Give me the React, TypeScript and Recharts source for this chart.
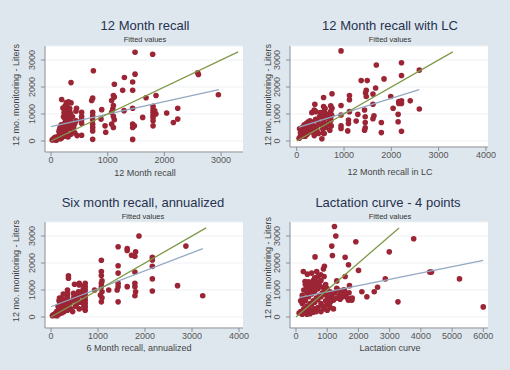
import React from 'react';
import { ScatterChart, Scatter, XAxis, YAxis, CartesianGrid } from 'recharts';

// observed points, [recall estimate, 12 mo. monitoring liters]
const recall12: number[][] = [
  [1482, 3288], [1793, 3212], [2587, 2525], [2600, 2462], [2952, 1712], [747, 2600], [353, 2162], [1294, 2350],
  [1117, 2100], [1482, 2475], [1440, 2187], [1440, 1875], [1264, 1875], [1100, 1687], [1117, 1625], [1070, 1500],
  [735, 1587], [717, 1500], [188, 1537], [288, 1412], [353, 1412], [1676, 1600], [1852, 1687], [1800, 1287],
  [1800, 1162], [1800, 1062], [1800, 962], [1800, 875], [1800, 750], [1800, 562], [2040, 1037], [2235, 1212],
  [2235, 812], [2158, 687], [1617, 875], [1440, 1212], [1440, 625], [1470, 562], [1440, 500], [1440, 60],
  [1288, 1125], [1100, 1312], [1090, 1187], [1070, 1062], [1100, 912], [1117, 787], [1070, 625], [1100, 500],
  [894, 1162], [882, 812], [953, 562], [965, 325], [735, 1062], [735, 937], [735, 787], [735, 625],
  [735, 500], [735, 375], [735, 62], [540, 1062], [540, 912], [540, 787], [540, 662], [540, 212],
  [450, 1212], [441, 750], [264, 1212], [306, 1125], [335, 1062], [353, 462], [1850, 1000], [1830, 1120],
  [20, 40], [40, 80], [60, 60], [80, 120], [100, 150], [120, 100], [140, 200], [160, 250],
  [180, 180], [200, 300], [220, 350], [240, 280], [250, 420], [260, 500], [270, 380], [280, 600],
  [290, 450], [300, 700], [310, 550], [320, 650], [330, 800], [200, 450], [210, 520], [230, 620],
  [250, 700], [270, 780], [180, 600], [160, 500], [150, 420], [140, 350], [220, 900], [240, 860],
  [260, 1000], [280, 1100], [300, 950], [320, 880], [340, 750], [360, 600], [380, 400], [350, 250],
  [300, 150], [260, 180], [230, 240], [190, 120], [170, 80], [110, 60], [90, 30], [70, 140],
  [400, 520], [420, 300], [330, 1200], [290, 1250], [250, 1300], [210, 1220], [350, 1000], [380, 900],
  [420, 650], [440, 1100], [460, 200], [230, 1050], [270, 1420], [310, 1450],
];

const recallLC: number[][] = [
  [937, 3337], [1683, 2812], [2215, 2900], [2215, 2425], [2592, 2625], [1846, 2300], [1363, 2237], [1491, 2237],
  [1668, 1962], [1470, 1875], [1470, 1650], [1455, 1775], [1612, 1737], [1988, 1650], [1115, 1687], [1115, 1525],
  [746, 1750], [568, 1612], [937, 1312], [746, 1212], [383, 1362], [369, 1150], [405, 1087], [568, 1275],
  [582, 1112], [582, 962], [689, 962], [724, 775], [689, 650], [937, 962], [937, 562], [937, 462],
  [1115, 1087], [1094, 775], [1094, 650], [1079, 375], [1292, 987], [1434, 1150], [1448, 900], [1448, 687],
  [1257, 737], [1612, 1362], [1633, 937], [1612, 825], [1789, 687], [1789, 312], [1448, 487], [1434, 400],
  [2038, 1212], [2158, 1462], [2158, 1387], [2215, 1487], [2215, 1387], [2400, 1487], [2144, 987], [2144, 712],
  [2215, 362], [2592, 1187], [532, 80], [582, 275],
  [50, 100], [70, 150], [90, 200], [110, 250], [130, 300], [150, 350], [170, 280], [190, 420],
  [210, 380], [230, 450], [250, 500], [270, 560], [290, 620], [310, 700], [330, 600], [100, 480],
  [130, 520], [160, 600], [200, 650], [240, 700], [280, 750], [180, 180], [220, 250], [260, 320],
  [300, 400], [350, 480], [400, 350], [420, 550], [450, 720], [480, 900], [500, 1050], [520, 600],
  [550, 450], [560, 800], [580, 700], [600, 880], [620, 500], [640, 1000], [660, 620], [680, 820],
  [700, 400], [720, 1100], [730, 560], [740, 950], [160, 400], [240, 600], [320, 1050], [380, 1100],
  [120, 180], [80, 300], [60, 450], [400, 800], [430, 380], [460, 280], [370, 200], [340, 330],
  [600, 1200], [560, 300], [700, 700], [720, 1300],
];

const recall6: number[][] = [
  [1871, 3000], [2870, 2625], [1428, 2600], [1621, 2537], [1621, 2462], [1800, 2412], [1714, 2287], [1785, 2250],
  [2156, 2212], [2156, 2112], [1071, 2100], [2156, 1875], [2156, 1412], [2156, 962], [1428, 1900], [1428, 1625],
  [1785, 1662], [1071, 1687], [1071, 1537], [1085, 1337], [1071, 1250], [1071, 1125], [1085, 937], [1050, 812],
  [1085, 712], [1071, 562], [1428, 1250], [1428, 1125], [1407, 1000], [1428, 562], [1621, 1125], [1785, 1250],
  [1785, 1125], [1800, 937], [1785, 787], [2692, 1162], [3228, 787], [1228, 1000], [928, 1000], [371, 1525],
  [371, 1437], [500, 1212], [600, 1250], [600, 1187], [728, 1250], [728, 1125], [728, 1000], [728, 875],
  [728, 750], [728, 625], [728, 500], [728, 375], [728, 250], [585, 937], [564, 750], [550, 500], [478, 875],
  [30, 50], [50, 80], [70, 100], [90, 60], [100, 150], [120, 200], [140, 120], [160, 300],
  [180, 250], [200, 350], [220, 400], [240, 300], [260, 450], [280, 500], [300, 380], [320, 600],
  [340, 700], [350, 800], [350, 900], [350, 1000], [350, 650], [350, 550], [350, 450], [350, 350],
  [350, 250], [300, 650], [250, 550], [200, 500], [150, 400], [170, 600], [220, 700], [280, 200],
  [230, 150], [180, 120], [130, 50], [400, 500], [450, 600], [480, 700], [500, 800], [520, 400],
  [550, 650], [580, 750], [600, 900], [620, 550], [650, 800], [680, 1000], [700, 350], [700, 450],
  [700, 550], [700, 650], [700, 850], [700, 950], [700, 1050], [700, 1150], [420, 300], [460, 200],
  [600, 300], [180, 700], [260, 850],
];

const lactation: number[][] = [
  [1232, 3350], [1275, 3000], [1917, 2787], [3770, 2900], [2988, 2412], [1146, 2625], [1167, 2275], [610, 2225],
  [1574, 2212], [1681, 1937], [910, 1875], [878, 1775], [2003, 1725], [1574, 1500], [1306, 1337], [2860, 1412],
  [4284, 1662], [4340, 1662], [5237, 1412], [5998, 375], [3266, 562], [1713, 1162], [2110, 937], [2270, 750],
  [2506, 937], [2613, 1100], [1681, 625], [1788, 625], [235, 1687], [364, 1587], [503, 1625], [664, 1687],
  [792, 1562], [289, 1312], [450, 1250], [578, 1337], [1520, 1000], [1306, 1062], [1092, 937], [985, 787],
  [1199, 625], [1413, 662],
  [100, 150], [150, 200], [200, 100], [250, 300], [300, 250], [350, 400], [400, 350], [450, 500],
  [500, 450], [550, 600], [600, 550], [650, 700], [700, 650], [750, 800], [800, 750], [850, 900],
  [900, 850], [950, 1000], [1000, 950], [200, 500], [250, 700], [300, 600], [350, 900], [400, 750],
  [450, 1000], [500, 850], [550, 1100], [600, 950], [650, 1200], [700, 1050], [750, 1300], [800, 500],
  [850, 400], [900, 300], [950, 600], [1000, 450], [1050, 700], [1100, 550], [1150, 800], [1200, 650],
  [1250, 900], [1300, 700], [1350, 1000], [1400, 800], [1450, 900], [1500, 750], [1550, 1000], [1600, 850],
  [1650, 700], [1700, 900], [1750, 650], [1800, 700], [150, 600], [200, 800], [250, 1000], [300, 1200],
  [350, 1100], [400, 1300], [450, 1150], [500, 1250], [550, 1350], [600, 1450], [650, 1300], [700, 1500],
  [750, 1150], [800, 1350], [850, 1100], [900, 1500], [950, 1200], [1000, 1050], [300, 150], [400, 200],
  [500, 250], [600, 300], [700, 350], [800, 200], [900, 400], [1000, 250], [1100, 350], [1200, 300],
  [350, 100], [450, 120], [550, 180], [650, 200],
];

// fitted regression lines and the 45 degree line
const fit12 = [[0, 530], [2960, 1900]];
const fitLC = [[50, 510], [2590, 1900]];
const fit6 = [[0, 380], [3230, 2530]];
const fitLact = [[100, 716], [6000, 2100]];
const diag = [[0, 0], [3300, 3300]];

const yTicks = [0, 1000, 2000, 3000];
const xTicks3 = [0, 1000, 2000, 3000];
const xTicks4 = [0, 1000, 2000, 3000, 4000];
const xTicks6 = [0, 1000, 2000, 3000, 4000, 5000, 6000];

const titles = ['12 Month recall', '12 Month recall with LC', 'Six month recall, annualized', 'Lactation curve - 4 points'];
const xLabels = ['12 Month recall', '12 Month recall in LC', '6 Month recall, annualized', 'Lactation curve'];
const yLabel = '12 mo. monitoring - Liters';

const toXY = (rows: number[][]) => rows.map(([x, y]) => ({ x, y }));

const Dot = (p: any) => <circle cx={p.cx} cy={p.cy} r={2.8} fill="#9b2535" />;
const NoDot = () => <g />;

const YTick = (p: any) => {
  const { x, y, payload } = p;
  return (
    <text x={x} y={y} transform={`rotate(-90 ${x} ${y})`} textAnchor="middle" fontSize={9} fill="#555">
      {payload.value}
    </text>
  );
};

const Txt = ({ x, y, size, color, rotate, children }: any) => (
  <div
    style={{
      position: 'absolute', left: x, top: y, fontSize: size, color, whiteSpace: 'nowrap', lineHeight: 1,
      transform: `translate(-50%, -50%)${rotate ? ' rotate(-90deg)' : ''}`,
    }}
  >
    {children}
  </div>
);

function Panel({ left, top, mt, mr, yw, xh, xDomain, yDomain, xTicks, pts, fit }: any) {
  return (
    <div style={{ position: 'absolute', left, top }}>
      <ScatterChart width={255} height={185} margin={{ top: mt, right: mr, left: 0, bottom: 0 }}>
        <CartesianGrid vertical={false} stroke="#eef1f4" fill="#ffffff" />
        <XAxis type="number" dataKey="x" domain={xDomain} ticks={xTicks} allowDataOverflow height={xh}
          tickSize={4} tickMargin={1} stroke="#8a8f96" tick={{ fontSize: 9, fill: '#555' }} />
        <YAxis type="number" dataKey="y" domain={yDomain} ticks={yTicks} allowDataOverflow width={yw}
          tickSize={4} tickMargin={6} stroke="#8a8f96" tick={<YTick />} />
        <Scatter data={toXY(pts)} shape={<Dot />} isAnimationActive={false} />
        <Scatter data={toXY(fit)} shape={NoDot} line={{ stroke: '#93a8c2', strokeWidth: 1.3 }} isAnimationActive={false} />
        <Scatter data={toXY(diag)} shape={NoDot} line={{ stroke: '#7f9a48', strokeWidth: 1.3 }} isAnimationActive={false} />
      </ScatterChart>
    </div>
  );
}

export default function App() {
  const navy = '#26324f';
  return (
    <div style={{ position: 'absolute', left: 0, top: 0, width: 510, height: 370, background: '#dfe7ee',
      fontFamily: '"Liberation Sans", Arial, sans-serif', overflow: 'hidden' }}>
      <Panel left={0} top={0} mt={46} mr={12} yw={45} xh={33} xDomain={[-106, 3386]} yDomain={[-407, 3518]}
        xTicks={xTicks3} pts={recall12} fit={fit12} />
      <Panel left={255} top={0} mt={46} mr={22} yw={35} xh={38} xDomain={[-142, 4044]} yDomain={[-222, 3518]}
        xTicks={xTicks4} pts={recallLC} fit={fitLC} />
      <Panel left={0} top={185} mt={37} mr={12} yw={45} xh={42} xDomain={[-128, 4085]} yDomain={[-407, 3518]}
        xTicks={xTicks4} pts={recall6} fit={fit6} />
      <Panel left={255} top={185} mt={37} mr={22} yw={35} xh={42} xDomain={[-192, 6150]} yDomain={[-407, 3518]}
        xTicks={xTicks6} pts={lactation} fit={fitLact} />

      <Txt x={145} y={25} size={13} color={navy}>{titles[0]}</Txt>
      <Txt x={390} y={25} size={13} color={navy}>{titles[1]}</Txt>
      <Txt x={143} y={202} size={13} color={navy}>{titles[2]}</Txt>
      <Txt x={388} y={202} size={13} color={navy}>{titles[3]}</Txt>

      <Txt x={145} y={40} size={7.5} color="#333">Fitted values</Txt>
      <Txt x={390} y={40} size={7.5} color="#333">Fitted values</Txt>
      <Txt x={143} y={217} size={7.5} color="#333">Fitted values</Txt>
      <Txt x={390} y={217} size={7.5} color="#333">Fitted values</Txt>

      <Txt x={145} y={173} size={9} color="#444">{xLabels[0]}</Txt>
      <Txt x={390} y={172} size={9} color="#444">{xLabels[1]}</Txt>
      <Txt x={139} y={348} size={9} color="#444">{xLabels[2]}</Txt>
      <Txt x={390} y={348} size={9} color="#444">{xLabels[3]}</Txt>

      <Txt x={16} y={95} size={9} color="#444" rotate>{yLabel}</Txt>
      <Txt x={268} y={95} size={9} color="#444" rotate>{yLabel}</Txt>
      <Txt x={16} y={271} size={9} color="#444" rotate>{yLabel}</Txt>
      <Txt x={268} y={268} size={9} color="#444" rotate>{yLabel}</Txt>
    </div>
  );
}
